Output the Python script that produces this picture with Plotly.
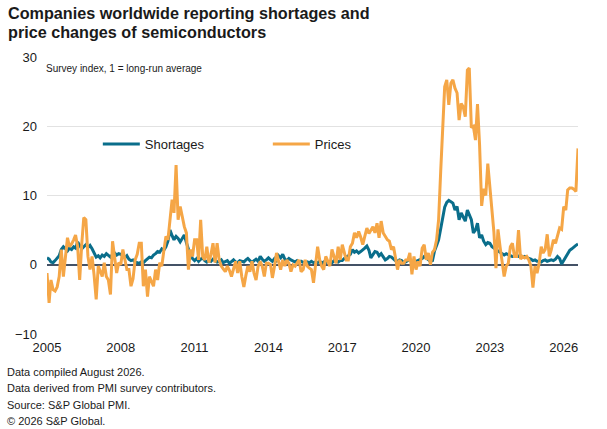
import pandas as pd
import plotly.graph_objects as go

# Monthly survey index, Jan 2005 - Aug 2026 (1 = long-run average)
shortages_by_year = {
    2005: [1.0, 0.8, 0.4, 0.3, 0.6, 0.9, 1.3, 2.2, 2.6, 2.3, 2.0, 2.4],
    2006: [2.2, 2.6, 2.4, 3.3, 2.8, 2.3, 2.6, 2.9, 2.5, 2.8, 2.3, 1.6],
    2007: [1.1, 1.3, 1.0, 1.4, 1.2, 1.6, 1.3, 1.1, 1.5, 1.7, 1.4, 1.6],
    2008: [1.5, 1.2, 1.0, 1.3, 0.8, 0.6, 0.7, 0.4, 0.3, 0.2, 0.4, 0.3],
    2009: [0.6, 0.9, 1.1, 1.0, 1.4, 1.6, 1.9, 1.8, 2.3, 2.1, 2.6, 3.4],
    2010: [5.0, 4.2, 3.6, 4.1, 3.8, 3.3, 3.9, 4.3, 3.2, 2.1, 1.3, 0.9],
    2011: [0.6, 0.9, 0.5, 0.8, 1.0, 0.6, 0.4, 0.7, 0.5, 0.8, 0.6, 0.4],
    2012: [0.5, 0.7, 0.3, 0.4, 0.6, 0.2, 0.5, 0.7, 0.4, 0.3, 0.6, 0.5],
    2013: [0.4, 0.7, 0.9, 0.6, 0.3, 0.6, 0.8, 0.5, 1.2, 0.8, 0.5, 0.7],
    2014: [1.0, 0.7, 0.5, 0.9, 0.6, 1.3, 1.0, 1.5, 0.8, 0.6, 0.9, 0.7],
    2015: [0.5, 0.4, 0.6, 0.3, 0.5, 0.4, 0.2, 0.4, 0.3, 0.5, 0.3, 0.4],
    2016: [0.3, 0.5, 0.2, 0.4, 0.3, 0.5, 0.4, 0.3, 0.6, 0.5, 0.4, 0.6],
    2017: [0.6, 0.9, 1.1, 1.3, 1.5, 2.2, 1.8, 2.0, 1.7, 1.9, 2.1, 2.4],
    2018: [2.7, 2.1, 1.0, 1.5, 1.9, 1.8, 1.3, 1.6, 1.1, 0.7, 0.9, 1.2],
    2019: [1.1, 0.8, 0.6, 0.5, 0.7, 0.6, 0.3, 0.4, 0.6, 0.8, 0.5, 0.4],
    2020: [0.5, 0.6, 0.7, 0.9, 1.2, 1.0, 0.7, 0.5, 0.6, 2.0, 2.8, 3.6],
    2021: [5.2, 6.8, 8.3, 9.0, 9.3, 9.1, 8.9, 7.9, 8.4, 6.5, 7.5, 6.9],
    2022: [6.3, 7.9, 7.2, 6.5, 4.6, 5.0, 6.0, 3.9, 4.3, 3.4, 2.9, 3.2],
    2023: [3.1, 2.6, 2.4, 2.2, 2.0, 1.7, 1.5, 1.4, 1.6, 1.4, 1.3, 1.2],
    2024: [1.2, 1.4, 1.2, 1.3, 1.1, 1.2, 1.0, 0.9, 0.8, 0.6, 0.7, 0.5],
    2025: [0.5, 0.4, 0.6, 0.7, 0.5, 0.6, 0.7, 0.6, 0.8, 1.2, 0.9, 0.1],
    2026: [0.6, 1.3, 1.7, 2.1, 2.3, 2.6, 2.8, 3.0],
}

prices_by_year = {
    2005: [-1.2, -5.5, -2.2, -3.6, -3.8, -3.2, -1.7, 2.2, -1.7, 1.5, 3.9, 2.6],
    2006: [3.0, 3.6, 4.3, 2.6, -2.2, 3.0, 6.8, 6.5, 1.2, -0.7, 1.2, -1.5],
    2007: [-5.0, -0.2, -1.0, -1.7, 0.3, -1.7, -2.2, -4.3, 3.4, 0.7, -1.2, 0.3],
    2008: [0.0, 2.2, 1.0, -0.7, -0.7, -3.1, -2.0, 0.7, 1.5, 3.1, 3.1, -3.1],
    2009: [-0.7, -4.6, -1.7, -2.5, -3.1, -0.7, -2.2, 0.3, -0.2, 2.0, 4.1, 3.6],
    2010: [7.0, 9.4, 7.5, 14.4, 6.5, 8.4, 7.0, 5.5, 4.6, -0.7, 2.2, 1.2],
    2011: [3.6, 3.6, 0.7, 6.5, 1.2, 0.7, 2.6, 0.3, 1.5, 3.1, 0.3, 3.1],
    2012: [0.7, -0.2, -0.6, -1.0, -0.2, -0.8, -1.7, -0.4, 0.5, -1.2, 0.5, -1.7],
    2013: [-3.2, -1.5, -0.2, -1.0, 0.5, -1.2, -2.2, -0.2, 0.5, -0.2, -1.7, 0.2],
    2014: [0.2, 0.0, -1.9, -0.2, 1.7, 0.5, -0.7, 0.7, -0.2, 0.7, 0.2, -1.0],
    2015: [0.0, -0.2, 0.3, 0.7, -1.0, -0.7, 0.7, -0.2, -0.5, -0.7, -2.6, 0.2],
    2016: [2.6, 0.7, -0.2, -0.7, 1.2, 0.5, -0.2, 2.2, 1.2, 0.2, 2.6, 0.7],
    2017: [2.9, 1.5, 0.7, 0.7, 2.6, 3.1, 4.6, 3.9, 4.8, 4.0, 2.9, 4.1],
    2018: [5.3, 4.5, 5.0, 5.5, 4.6, 6.0, 3.9, 6.3, 4.6, 4.0, 3.6, 3.4],
    2019: [2.2, 2.6, 0.7, -0.7, 0.7, 0.2, 0.2, 0.7, 0.7, 1.7, -1.4, 1.2],
    2020: [-0.7, 0.5, -0.2, 2.4, 2.9, 0.7, 1.7, 0.0, 1.8, 2.2, 3.6, 6.5],
    2021: [13.5, 21.0, 25.7, 26.7, 23.1, 26.2, 26.7, 25.5, 24.8, 20.9, 23.3, 22.8],
    2022: [21.4, 28.1, 28.4, 19.8, 20.0, 18.0, 23.2, 17.3, 8.5, 11.0, 10.0, 14.6],
    2023: [10.8, 7.0, 4.8, -0.5, 5.1, 2.6, 0.2, -1.7, -0.2, 0.2, 2.6, 3.1],
    2024: [1.2, 1.2, 5.0, 0.8, 1.2, 1.0, 1.2, 0.7, -0.2, -3.3, -0.2, -1.2],
    2025: [0.2, 2.6, 1.7, 2.2, 4.4, 1.2, 2.2, 3.6, 3.1, 4.1, 5.3, 5.1],
    2026: [8.4, 7.9, 10.8, 11.1, 11.1, 10.9, 10.6, 16.8],
}

shortages = [v for yr in sorted(shortages_by_year) for v in shortages_by_year[yr]]
prices = [v for yr in sorted(prices_by_year) for v in prices_by_year[yr]]
dates = pd.date_range("2005-01-01", periods=len(prices), freq="MS")

tick_years = [2005, 2008, 2011, 2014, 2017, 2020, 2023, 2026]
title_lines = [
    "Companies worldwide reporting shortages and",
    "price changes of semiconductors",
]
footer_lines = [
    "Data compiled August 2026.",
    "Data derived from PMI survey contributors.",
    "Source: S&P Global PMI.",
    "\u00a9 2026 S&P Global.",
]

TEAL = "#0a6e8b"
ORANGE = "#f5a646"
FONT = "Liberation Sans, Arial, sans-serif"

fig = go.Figure()
fig.add_trace(go.Scatter(x=dates, y=shortages, mode="lines", name="Shortages",
                         line=dict(color=TEAL, width=3)))
fig.add_trace(go.Scatter(x=dates, y=prices, mode="lines", name="Prices",
                         line=dict(color=ORANGE, width=3)))

fig.update_layout(
    width=607, height=429,
    margin=dict(l=47, r=29, t=57, b=95),
    paper_bgcolor="white", plot_bgcolor="white",
    font=dict(family=FONT, size=13, color="#1a1a1a"),
    legend=dict(
        orientation="h", x=0.0957, xanchor="left", y=0.686, yanchor="middle",
        itemwidth=37, entrywidth=118, entrywidthmode="pixels",
        font=dict(size=13), bgcolor="rgba(0,0,0,0)",
    ),
    showlegend=True,
)

fig.update_xaxes(
    type="date",
    range=[dates[0], dates[-1]],
    tickvals=[pd.Timestamp(f"{y}-01-01") for y in tick_years],
    ticktext=[str(y) for y in tick_years],
    showgrid=False, showline=False, zeroline=False,
    ticks="", ticklabelstandoff=4,
    tickfont=dict(size=13),
)
fig.update_yaxes(
    range=[-10, 30], dtick=10,
    showgrid=True, gridcolor="#e2e2e2", gridwidth=1,
    zeroline=True, zerolinecolor="#445266", zerolinewidth=1.5,
    ticks="", ticklabelstandoff=9,
    tickfont=dict(size=13),
)

# two-line bold title, placed line by line
for i, line in enumerate(title_lines):
    fig.add_annotation(
        text=f"<b>{line}</b>", xref="paper", yref="paper",
        x=-0.078, y=1.1588 - i * 0.0686,
        xanchor="left", yanchor="middle", showarrow=False,
        font=dict(size=16.2, color="#1a1a1a"),
    )

fig.add_annotation(
    text="Survey index, 1 = long-run average",
    xref="paper", yref="paper", x=-0.006, y=0.957,
    xanchor="left", yanchor="middle", showarrow=False,
    font=dict(size=10, color="#1a1a1a"),
)

for i, line in enumerate(footer_lines):
    fig.add_annotation(
        text=line, xref="paper", yref="paper",
        x=-0.079, y=-0.137 - i * 0.0596,
        xanchor="left", yanchor="middle", showarrow=False,
        font=dict(size=11, color="#1a1a1a"),
    )

# drop the browser's default page margin so the figure sits at the window corner
fig.write_html("out.html", config={"displayModeBar": False},
               post_script="document.body.style.margin='0';")
